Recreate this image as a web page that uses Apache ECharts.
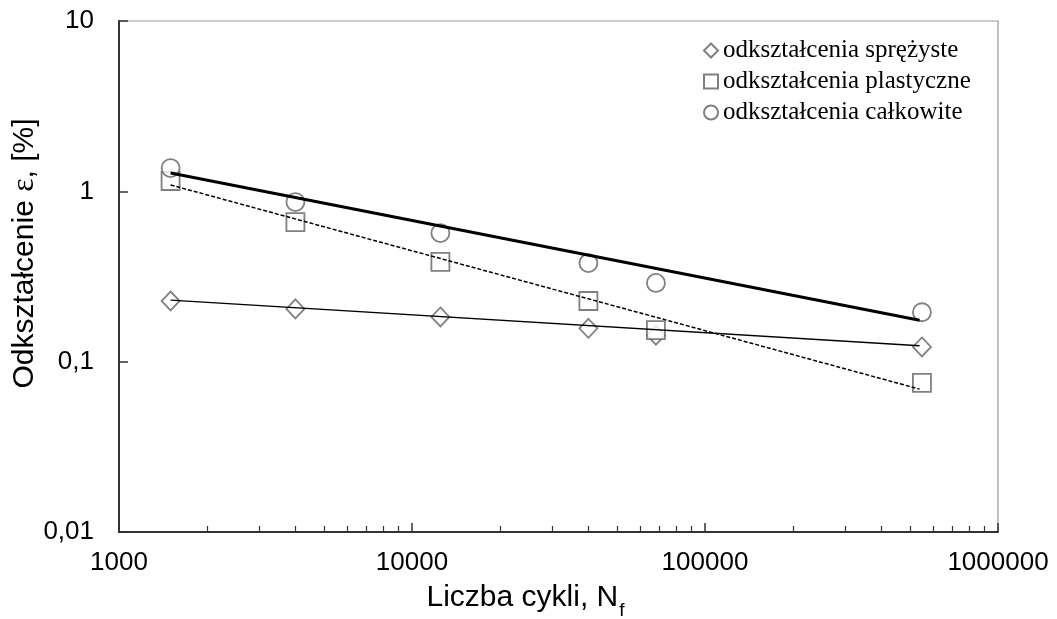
<!DOCTYPE html>
<html>
<head>
<meta charset="utf-8">
<script src="https://cdn.jsdelivr.net/npm/echarts@6/dist/echarts.min.js"></script>
<style>
  html, body { margin: 0; padding: 0; background: #fff; }
  #chart { width: 1057px; height: 619px; }
</style>
</head>
<body>
<div id="chart"></div>
<script>
// liczba cykli (oś X)
const cycles = [1500, 4000, 12500, 40000, 68000, 550000];
// odkształcenia [%]
const elastic = [0.227, 0.204, 0.183, 0.157, 0.143, 0.122];
const plastic = [1.15, 0.66, 0.385, 0.227, 0.153, 0.075];
const total = [1.37, 0.865, 0.569, 0.379, 0.29, 0.195];

// linie trendu - końce
const trendCycles = [1500, 540000];
const elasticTrend = [0.23, 0.124];
const plasticTrend = [1.09, 0.069];
const totalTrend = [1.28, 0.175];

// podziałka
const majorTicks = [1000, 10000, 100000, 1000000];
const minorTicks = [2000, 3000, 4000, 5000, 6000, 7000, 8000, 9000,
  20000, 30000, 40000, 50000, 60000, 70000, 80000, 90000,
  200000, 300000, 400000, 500000, 600000, 700000, 800000, 900000];

const names = ['odkształcenia sprężyste', 'odkształcenia plastyczne', 'odkształcenia całkowite'];

const pairs = (xs, ys) => xs.map((x, i) => [x, ys[i]]);

const markerStyle = { color: '#fff', borderColor: '#606060', borderWidth: 1.8 };

const chart = echarts.init(document.getElementById('chart'));

chart.setOption({
  animation: false,
  grid: {
    left: 119, top: 21, right: 59, bottom: 87,
    outerBoundsMode: 'none',
    show: true, borderColor: '#999', borderWidth: 1.2
  },
  legend: {
    orient: 'vertical',
    left: 698,
    top: 33,
    itemWidth: 14,
    itemHeight: 14,
    itemGap: 6,
    data: names,
    textStyle: { fontFamily: 'Liberation Serif', fontSize: 25, color: '#000' }
  },
  xAxis: [
    {
      type: 'log',
      logBase: 10,
      min: 1000,
      max: 1000000,
      name: '{t|Liczba cykli, N}{s|f}',
      nameLocation: 'middle',
      nameGap: 51,
      nameMoveOverlap: false,
      nameTextStyle: {
        padding: [0, 66, 0, 0],
        rich: {
          t: { fontFamily: 'Liberation Sans', fontSize: 30, lineHeight: 32, color: '#000', verticalAlign: 'top' },
          s: { fontFamily: 'Liberation Sans', fontSize: 19, lineHeight: 19, color: '#000', verticalAlign: 'top', padding: [18, 0, 0, 1] }
        }
      },
      axisLine: { lineStyle: { color: '#333', width: 2 } },
      axisTick: { inside: true, length: 6, customValues: minorTicks, lineStyle: { color: '#333', width: 1.2 } },
      axisLabel: {
        margin: 18,
        fontFamily: 'Liberation Sans',
        fontSize: 26,
        color: '#000',
        formatter: (v) => String(Math.round(v))
      },
      splitLine: { show: false }
    },
    {
      type: 'log',
      logBase: 10,
      min: 1000,
      max: 1000000,
      position: 'bottom',
      axisLine: { show: false },
      axisTick: { inside: true, length: 9, customValues: majorTicks, lineStyle: { color: '#333', width: 1.5 } },
      axisLabel: { show: false },
      splitLine: { show: false }
    }
  ],
  yAxis: {
    type: 'log',
    logBase: 10,
    min: 0.01,
    max: 10,
    name: '{t|Odkształcenie }{e|ε}{t|, [%]}',
    nameLocation: 'middle',
    nameGap: 78,
    nameMoveOverlap: false,
    nameTextStyle: {
      padding: [0, 0, 0, 46],
      rich: {
        t: { fontFamily: 'Liberation Sans', fontSize: 30, color: '#000' },
        e: { fontFamily: 'Liberation Serif', fontSize: 32, color: '#000' }
      }
    },
    axisLine: { lineStyle: { color: '#333', width: 2 } },
    axisTick: { inside: true, length: 9, lineStyle: { color: '#333', width: 1.5 } },
    axisLabel: {
      margin: 25,
      fontFamily: 'Liberation Sans',
      fontSize: 26,
      color: '#000',
      formatter: (v) => String(v).replace('.', ',')
    },
    splitLine: { show: false }
  },
  series: [
    {
      name: names[0],
      type: 'scatter',
      symbol: 'diamond',
      symbolSize: [18, 19],
      itemStyle: markerStyle,
      z: 2,
      data: pairs(cycles, elastic)
    },
    {
      name: names[1],
      type: 'scatter',
      symbol: 'rect',
      symbolSize: 18,
      itemStyle: markerStyle,
      z: 2,
      data: pairs(cycles, plastic)
    },
    {
      name: names[2],
      type: 'scatter',
      symbol: 'circle',
      symbolSize: 18,
      itemStyle: markerStyle,
      z: 2,
      data: pairs(cycles, total)
    },
    {
      name: 'trend sprężyste',
      type: 'line',
      symbol: 'none',
      z: 3,
      lineStyle: { color: '#000', width: 1.3 },
      data: pairs(trendCycles, elasticTrend)
    },
    {
      name: 'trend plastyczne',
      type: 'line',
      symbol: 'none',
      z: 3,
      lineStyle: { color: '#000', width: 1.5, type: [4, 2] },
      data: pairs(trendCycles, plasticTrend)
    },
    {
      name: 'trend całkowite',
      type: 'line',
      symbol: 'none',
      z: 3,
      lineStyle: { color: '#000', width: 3 },
      data: pairs(trendCycles, totalTrend)
    }
  ]
});
</script>
</body>
</html>
